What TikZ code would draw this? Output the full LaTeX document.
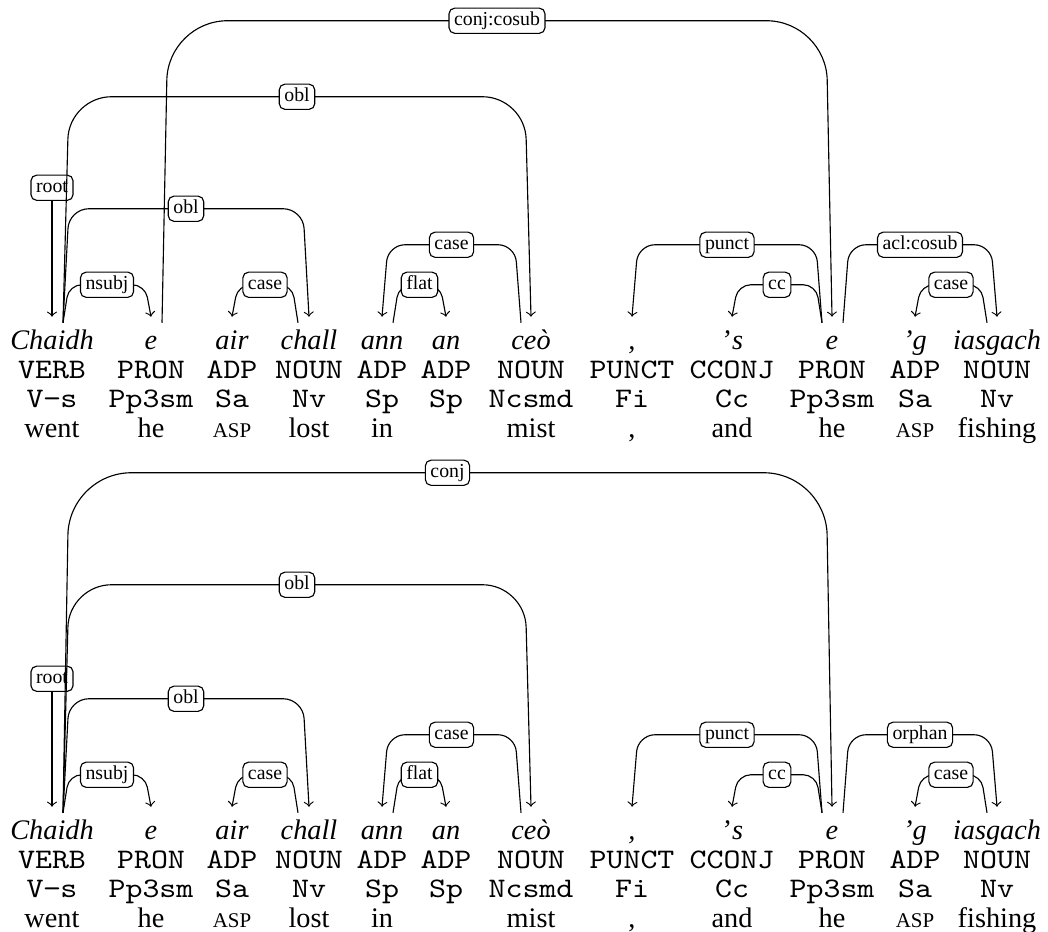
\documentclass[tikz,border=0pt]{standalone}
\usepackage{fontspec}
\setmainfont{Liberation Serif}
\setmonofont{Latin Modern Mono}[FakeStretch=1.143]
\usetikzlibrary{positioning,calc}

\newcommand{\glossasp}{{\fontsize{7.4}{9}\selectfont ASP}}
\newcommand{\tagdash}{\char"2212}

\tikzset{
  word/.style={font=\itshape, inner sep=0pt, text height=7pt, text depth=2pt, anchor=base},
  tag/.style={font=\ttfamily, inner sep=0pt, anchor=base},
  gloss/.style={inner sep=0pt, anchor=base},
  dep/.style={->, line width=0.4pt},
  lbl/.style={draw, fill=white, rounded corners=2pt, font=\scriptsize, inner xsep=1.8pt, inner ysep=1.2pt, text height=5pt, text depth=1.5pt}
}

\begin{document}
\begin{tikzpicture}[x=0.3534pt, y=-0.3534pt]
    \useasboundingbox (0,0) rectangle (1048,931);

    % first sentence
    \node[word] (w1) at (52,349) {Chaidh};   \node[tag] (p1) at (52,378) {VERB};   \node[tag] (x1) at (52,407) {V\tagdash s}; \node[gloss] (g1) at (52,437) {went};
    \node[word] (w2) at (151,349) {e};       \node[tag] (p2) at (151,378) {PRON};  \node[tag] (x2) at (151,407) {Pp3sm};  \node[gloss] (g2) at (151,437) {he};
    \node[word] (w3) at (232,349) {air};     \node[tag] (p3) at (232,378) {ADP};   \node[tag] (x3) at (232,407) {Sa};     \node[gloss] (g3) at (232,437) {\glossasp};
    \node[word] (w4) at (309,349) {chall};   \node[tag] (p4) at (309,378) {NOUN};  \node[tag] (x4) at (309,407) {Nv};     \node[gloss] (g4) at (309,437) {lost};
    \node[word] (w5) at (382,349) {ann};     \node[tag] (p5) at (382,378) {ADP};   \node[tag] (x5) at (382,407) {Sp};     \node[gloss] (g5) at (382,437) {in};
    \node[word] (w6) at (446,349) {an};      \node[tag] (p6) at (446,378) {ADP};   \node[tag] (x6) at (446,407) {Sp};
    \node[word] (w7) at (531,349) {ceò};     \node[tag] (p7) at (531,378) {NOUN};  \node[tag] (x7) at (531,407) {Ncsmd};  \node[gloss] (g7) at (531,437) {mist};
    \node[word] (w8) at (632,349) {,};       \node[tag] (p8) at (632,378) {PUNCT}; \node[tag] (x8) at (632,407) {Fi};     \node[gloss] (g8) at (632,437) {,};
    \node[word] (w9) at (732,349) {’\kern0.6pt s}; \node[tag] (p9) at (732,378) {CCONJ}; \node[tag] (x9) at (732,407) {Cc}; \node[gloss] (g9) at (732,437) {and};
    \node[word] (w10) at (832,349) {e};      \node[tag] (p10) at (832,378) {PRON}; \node[tag] (x10) at (832,407) {Pp3sm}; \node[gloss] (g10) at (832,437) {he};
    \node[word] (w11) at (915,349) {’g};     \node[tag] (p11) at (915,378) {ADP};  \node[tag] (x11) at (915,407) {Sa};    \node[gloss] (g11) at (915,437) {\glossasp};
    \node[word] (w12) at (997,349) {iasgach};\node[tag] (p12) at (997,378) {NOUN}; \node[tag] (x12) at (997,407) {Nv};    \node[gloss] (g12) at (997,437) {fishing};

    \coordinate[above=4.2pt of w1] (t1);   \coordinate[above=4.2pt of w2] (t2);   \coordinate[above=4.2pt of w3] (t3);
    \coordinate[above=4.2pt of w4] (t4);   \coordinate[above=4.2pt of w5] (t5);   \coordinate[above=4.2pt of w6] (t6);
    \coordinate[above=4.2pt of w7] (t7);   \coordinate[above=4.2pt of w8] (t8);   \coordinate[above=4.2pt of w9] (t9);
    \coordinate[above=4.2pt of w10] (t10); \coordinate[above=4.2pt of w11] (t11); \coordinate[above=4.2pt of w12] (t12);

    \draw[dep] ($(t1)+(0,-129)$) node[lbl] {root} -- (t1);
    \draw[dep, rounded corners=4.5pt] ($(t1)+(11,6)$) -- ($(t1)+(17,-32)$) -- node[lbl] {nsubj} ($(t2)+(-6,-32)$) -- (t2);
    \draw[dep, rounded corners=7pt] ($(t1)+(11,6)$) -- ($(t1)+(17,-108)$) -- node[lbl] {obl} ($(t4)+(-6,-108)$) -- (t4);
    \draw[dep, rounded corners=15pt] ($(t1)+(11,6)$) -- ($(t1)+(17,-220)$) -- node[lbl] {obl} ($(t7)+(-6,-220)$) -- (t7);
    \draw[dep, rounded corners=4.5pt] ($(t4)+(-11,6)$) -- ($(t4)+(-17,-32)$) -- node[lbl] {case} ($(t3)+(6,-32)$) -- (t3);
    \draw[dep, rounded corners=6pt] ($(t7)+(-10,6)$) -- ($(t7)+(-16,-72)$) -- node[lbl] {case} ($(t5)+(6,-72)$) -- (t5);
    \draw[dep, rounded corners=4.5pt] ($(t5)+(11,6)$) -- ($(t5)+(17,-32)$) -- node[lbl] {flat} ($(t6)+(-6,-32)$) -- (t6);
    \draw[dep, rounded corners=6pt] ($(t10)+(-10,6)$) -- ($(t10)+(-16,-72)$) -- node[lbl] {punct} ($(t8)+(6,-72)$) -- (t8);
    \draw[dep, rounded corners=4.5pt] ($(t10)+(-10,6)$) -- ($(t10)+(-16,-32)$) -- node[lbl] {cc} ($(t9)+(6,-32)$) -- (t9);
    \draw[dep, rounded corners=21pt] ($(t2)+(11,6)$) -- ($(t2)+(17,-296)$) -- node[lbl] {conj:cosub} ($(t10)+(-6,-296)$) -- (t10);
    \draw[dep, rounded corners=6pt] ($(t10)+(11,6)$) -- ($(t10)+(17,-72)$) -- node[lbl] {acl:cosub} ($(t12)+(-6,-72)$) -- (t12);
    \draw[dep, rounded corners=4.5pt] ($(t12)+(-10,6)$) -- ($(t12)+(-16,-32)$) -- node[lbl] {case} ($(t11)+(6,-32)$) -- (t11);

    % second sentence
    \node[word] (bw1) at (52,839) {Chaidh};   \node[tag] (bp1) at (52,868) {VERB};   \node[tag] (bx1) at (52,897) {V\tagdash s}; \node[gloss] (bg1) at (52,927) {went};
    \node[word] (bw2) at (151,839) {e};       \node[tag] (bp2) at (151,868) {PRON};  \node[tag] (bx2) at (151,897) {Pp3sm};  \node[gloss] (bg2) at (151,927) {he};
    \node[word] (bw3) at (232,839) {air};     \node[tag] (bp3) at (232,868) {ADP};   \node[tag] (bx3) at (232,897) {Sa};     \node[gloss] (bg3) at (232,927) {\glossasp};
    \node[word] (bw4) at (309,839) {chall};   \node[tag] (bp4) at (309,868) {NOUN};  \node[tag] (bx4) at (309,897) {Nv};     \node[gloss] (bg4) at (309,927) {lost};
    \node[word] (bw5) at (382,839) {ann};     \node[tag] (bp5) at (382,868) {ADP};   \node[tag] (bx5) at (382,897) {Sp};     \node[gloss] (bg5) at (382,927) {in};
    \node[word] (bw6) at (446,839) {an};      \node[tag] (bp6) at (446,868) {ADP};   \node[tag] (bx6) at (446,897) {Sp};
    \node[word] (bw7) at (531,839) {ceò};     \node[tag] (bp7) at (531,868) {NOUN};  \node[tag] (bx7) at (531,897) {Ncsmd};  \node[gloss] (bg7) at (531,927) {mist};
    \node[word] (bw8) at (632,839) {,};       \node[tag] (bp8) at (632,868) {PUNCT}; \node[tag] (bx8) at (632,897) {Fi};     \node[gloss] (bg8) at (632,927) {,};
    \node[word] (bw9) at (732,839) {’\kern0.6pt s}; \node[tag] (bp9) at (732,868) {CCONJ}; \node[tag] (bx9) at (732,897) {Cc}; \node[gloss] (bg9) at (732,927) {and};
    \node[word] (bw10) at (832,839) {e};      \node[tag] (bp10) at (832,868) {PRON}; \node[tag] (bx10) at (832,897) {Pp3sm}; \node[gloss] (bg10) at (832,927) {he};
    \node[word] (bw11) at (915,839) {’g};     \node[tag] (bp11) at (915,868) {ADP};  \node[tag] (bx11) at (915,897) {Sa};    \node[gloss] (bg11) at (915,927) {\glossasp};
    \node[word] (bw12) at (997,839) {iasgach};\node[tag] (bp12) at (997,868) {NOUN}; \node[tag] (bx12) at (997,897) {Nv};    \node[gloss] (bg12) at (997,927) {fishing};

    \coordinate[above=4.2pt of bw1] (bt1);   \coordinate[above=4.2pt of bw2] (bt2);   \coordinate[above=4.2pt of bw3] (bt3);
    \coordinate[above=4.2pt of bw4] (bt4);   \coordinate[above=4.2pt of bw5] (bt5);   \coordinate[above=4.2pt of bw6] (bt6);
    \coordinate[above=4.2pt of bw7] (bt7);   \coordinate[above=4.2pt of bw8] (bt8);   \coordinate[above=4.2pt of bw9] (bt9);
    \coordinate[above=4.2pt of bw10] (bt10); \coordinate[above=4.2pt of bw11] (bt11); \coordinate[above=4.2pt of bw12] (bt12);

    \draw[dep] ($(bt1)+(0,-128)$) node[lbl] {root} -- (bt1);
    \draw[dep, rounded corners=4.5pt] ($(bt1)+(11,6)$) -- ($(bt1)+(17,-32)$) -- node[lbl] {nsubj} ($(bt2)+(-6,-32)$) -- (bt2);
    \draw[dep, rounded corners=7pt] ($(bt1)+(11,6)$) -- ($(bt1)+(17,-108)$) -- node[lbl] {obl} ($(bt4)+(-6,-108)$) -- (bt4);
    \draw[dep, rounded corners=15pt] ($(bt1)+(11,6)$) -- ($(bt1)+(17,-222)$) -- node[lbl] {obl} ($(bt7)+(-6,-222)$) -- (bt7);
    \draw[dep, rounded corners=22pt] ($(bt1)+(11,6)$) -- ($(bt1)+(17,-334)$) -- node[lbl] {conj} ($(bt10)+(-6,-334)$) -- (bt10);
    \draw[dep, rounded corners=4.5pt] ($(bt4)+(-11,6)$) -- ($(bt4)+(-17,-32)$) -- node[lbl] {case} ($(bt3)+(6,-32)$) -- (bt3);
    \draw[dep, rounded corners=6pt] ($(bt7)+(-10,6)$) -- ($(bt7)+(-16,-72)$) -- node[lbl] {case} ($(bt5)+(6,-72)$) -- (bt5);
    \draw[dep, rounded corners=4.5pt] ($(bt5)+(11,6)$) -- ($(bt5)+(17,-32)$) -- node[lbl] {flat} ($(bt6)+(-6,-32)$) -- (bt6);
    \draw[dep, rounded corners=6pt] ($(bt10)+(-10,6)$) -- ($(bt10)+(-16,-72)$) -- node[lbl] {punct} ($(bt8)+(6,-72)$) -- (bt8);
    \draw[dep, rounded corners=4.5pt] ($(bt10)+(-10,6)$) -- ($(bt10)+(-16,-32)$) -- node[lbl] {cc} ($(bt9)+(6,-32)$) -- (bt9);
    \draw[dep, rounded corners=6pt] ($(bt10)+(11,6)$) -- ($(bt10)+(17,-72)$) -- node[lbl] {orphan} ($(bt12)+(-6,-72)$) -- (bt12);
    \draw[dep, rounded corners=4.5pt] ($(bt12)+(-10,6)$) -- ($(bt12)+(-16,-32)$) -- node[lbl] {case} ($(bt11)+(6,-32)$) -- (bt11);
\end{tikzpicture}
\end{document}
